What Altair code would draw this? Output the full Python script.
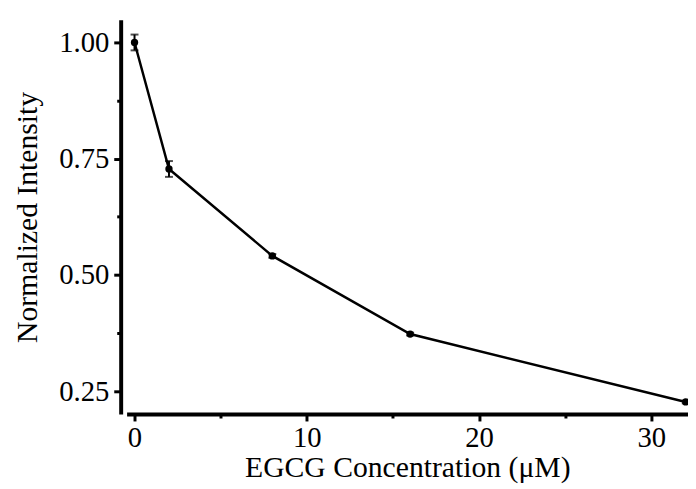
import altair as alt
import pandas as pd

conc = [0, 2, 8, 16, 32]
intensity = [1.000, 0.728, 0.541, 0.373, 0.227]
err = [0.017, 0.017, 0.004, 0.003, 0.003]

df = pd.DataFrame({
    "conc": conc,
    "val": intensity,
    "lo": [v - e for v, e in zip(intensity, err)],
    "hi": [v + e for v, e in zip(intensity, err)],
})

FONT = "Liberation Serif"

xscale = alt.Scale(domain=[-0.46, 32.13], nice=False, zero=False)
yscale = alt.Scale(domain=[0.201, 1.049], nice=False, zero=False)

xaxis = alt.Axis(
    title="EGCG Concentration (μM)",
    values=[0, 5, 10, 15, 20, 25, 30],
    labelExpr="datum.value % 10 === 0 ? datum.label : ''",
    tickSize={"condition": {"test": "datum.value % 10 === 0", "value": 7}, "value": 4},
    tickWidth=3,
    labelPadding=3,
    titlePadding=0,
    grid=False,
)
yaxis = alt.Axis(
    title="Normalized Intensity",
    values=[0.25, 0.375, 0.5, 0.625, 0.75, 0.875, 1.0],
    labelExpr="(round(datum.value*100) % 25 === 0) ? format(datum.value, '.2f') : ''",
    tickSize={"condition": {"test": "round(datum.value*1000) % 250 === 0", "value": 7}, "value": 4},
    tickWidth=3,
    offset=6,
    labelPadding=5,
    titlePadding=16,
    grid=False,
)

base = alt.Chart(df)

line = base.mark_line(color="black", strokeWidth=2.5).encode(
    x=alt.X("conc:Q", scale=xscale, axis=xaxis),
    y=alt.Y("val:Q", scale=yscale, axis=yaxis),
)
pts = base.mark_point(filled=True, color="black", size=55, opacity=1).encode(
    x=alt.X("conc:Q", scale=xscale),
    y=alt.Y("val:Q", scale=yscale),
)
bars = base.mark_rule(color="black", strokeWidth=2).encode(
    x=alt.X("conc:Q", scale=xscale),
    y=alt.Y("lo:Q", scale=yscale),
    y2="hi:Q",
)
cap_lo = base.mark_tick(color="black", orient="horizontal", size=8, thickness=2).encode(
    x=alt.X("conc:Q", scale=xscale),
    y=alt.Y("lo:Q", scale=yscale),
)
cap_hi = base.mark_tick(color="black", orient="horizontal", size=8, thickness=2).encode(
    x=alt.X("conc:Q", scale=xscale),
    y=alt.Y("hi:Q", scale=yscale),
)

chart = alt.layer(line, bars, cap_lo, cap_hi, pts).properties(
    width=568,
    height=399,
    autosize=alt.AutoSizeParams(type="none"),
    padding={"left": 120, "top": 9, "right": 0, "bottom": 72},
).configure_view(stroke=None).configure_axis(
    domainColor="black",
    domainWidth=4,
    tickColor="black",
    labelColor="black",
    titleColor="black",
    labelFont=FONT,
    titleFont=FONT,
    labelFontSize=29,
    titleFontSize=30,
    titleFontWeight="normal",
)

chart.save("out.html", embed_options={"renderer": "svg", "actions": False})
